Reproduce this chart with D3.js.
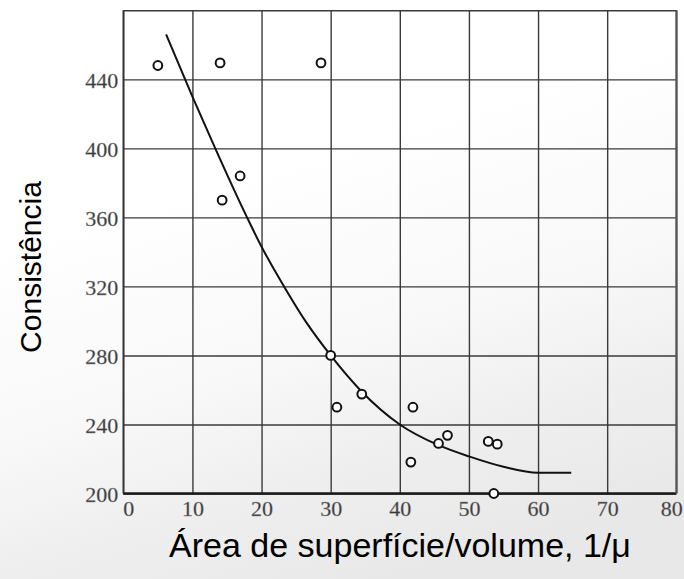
<!DOCTYPE html>
<html>
<head>
<meta charset="utf-8">
<script src="https://cdn.jsdelivr.net/npm/d3@7/dist/d3.min.js"></script>
<style>
  html, body { margin: 0; padding: 0; background: #fff; }
  svg { display: block; }
</style>
</head>
<body>
<script>
// Observed samples: surface area / volume (1/μ) against consistency
const areaVolume = [5.0, 14.0, 28.6, 16.9, 14.3, 30.0, 30.9, 34.5, 41.9, 46.9, 45.6, 41.6, 52.8, 54.1, 53.6];
const consistency = [448, 449.5, 449.5, 384, 370, 280, 250, 257.6, 250, 233.7, 229, 218.2, 230.2, 228.6, 200];

// Trend curve drawn through the cloud of points
const trendX = [6.2, 10, 13.3, 17.9, 20, 23.4, 26.5, 30, 34.5, 40, 45.6, 50, 55, 60, 64.8];
const trendY = [466, 430, 400, 360, 343, 319, 299, 280, 259, 240, 228, 221.5, 215.5, 212, 212];

const xTicks = [0, 10, 20, 30, 40, 50, 60, 70, 80];
const yTicks = [200, 240, 280, 320, 360, 400, 440];
const yGrid = [200, 240, 280, 320, 360, 400, 440, 480];

const xTitle = "Área de superfície/volume, 1/μ";
const yTitle = "Consistência";

const W = 684, H = 579;
const m = { left: 123.3, right: 684 - 676.3, top: 10.3, bottom: 579 - 493.5 };
const iw = W - m.left - m.right, ih = H - m.top - m.bottom;

const svg = d3.select("body").append("svg").attr("width", W).attr("height", H);

// soft grey backdrop fading in toward the bottom
const defs = svg.append("defs");
const grad = defs.append("linearGradient").attr("id", "bg")
  .attr("x1", "0.35").attr("y1", "0.3").attr("x2", "0.6").attr("y2", "1");
grad.append("stop").attr("offset", "0").attr("stop-color", "#ffffff");
grad.append("stop").attr("offset", "0.45").attr("stop-color", "#f8f8f8");
grad.append("stop").attr("offset", "0.7").attr("stop-color", "#efefef");
grad.append("stop").attr("offset", "1").attr("stop-color", "#e8e8e8");
svg.append("rect").attr("width", W).attr("height", H).attr("fill", "url(#bg)");

const g = svg.append("g").attr("transform", `translate(${m.left},${m.top})`);

const x = d3.scaleLinear().domain([0, 80]).range([0, iw]);
const y = d3.scaleLinear().domain([200, 480]).range([ih, 0]);

const serif = "'Liberation Serif', 'DejaVu Serif', serif";

// vertical grid + x tick labels
const xAxis = g.append("g").attr("transform", `translate(0,${ih})`)
  .call(d3.axisBottom(x).tickValues(xTicks).tickSize(-ih).tickPadding(7).tickFormat(d3.format("d")));
xAxis.select(".domain").remove();
xAxis.selectAll(".tick line").attr("stroke", "#3a3a3a").attr("stroke-width", 1.4);
xAxis.selectAll(".tick text")
  .style("font-family", serif).style("font-size", "22px")
  .attr("fill", "#383838").attr("stroke", "#888").attr("stroke-width", 0.35)
  .attr("dx", d => d === 0 ? 5 : d === 80 ? -5 : 0);

// horizontal grid + y tick labels
const yAxis = g.append("g")
  .call(d3.axisLeft(y).tickValues(yGrid).tickSize(-iw).tickPadding(5)
    .tickFormat(d => yTicks.includes(d) ? d3.format("d")(d) : ""));
yAxis.select(".domain").remove();
yAxis.selectAll(".tick line").attr("stroke", "#3a3a3a").attr("stroke-width", 1.4);
yAxis.selectAll(".tick text")
  .style("font-family", serif).style("font-size", "22px")
  .attr("fill", "#383838").attr("stroke", "#888").attr("stroke-width", 0.35)
  .attr("dy", "0.38em");

// frame edges
g.append("line").attr("x1", 0).attr("x2", iw).attr("y1", ih).attr("y2", ih)
  .attr("stroke", "#1a1a1a").attr("stroke-width", 2.4);
g.append("line").attr("x1", 0).attr("x2", 0).attr("y1", 0).attr("y2", ih)
  .attr("stroke", "#333").attr("stroke-width", 1.6);
g.append("line").attr("x1", iw).attr("x2", iw).attr("y1", 0).attr("y2", ih)
  .attr("stroke", "#555").attr("stroke-width", 2);

// trend curve
const trend = trendX.map((v, i) => [v, trendY[i]]);
g.append("path").datum(trend)
  .attr("fill", "none").attr("stroke", "#111").attr("stroke-width", 2)
  .attr("d", d3.line().x(d => x(d[0])).y(d => y(d[1])).curve(d3.curveMonotoneX));

// sample points
const pts = areaVolume.map((v, i) => [v, consistency[i]]);
g.selectAll("circle.pt").data(pts).join("circle").attr("class", "pt")
  .attr("cx", d => x(d[0])).attr("cy", d => y(d[1])).attr("r", 4.4)
  .attr("fill", "#fff").attr("stroke", "#111").attr("stroke-width", 2);

// axis titles
svg.append("text").attr("x", 400).attr("y", 557).attr("text-anchor", "middle")
  .style("font-family", "'Liberation Sans', Arial, sans-serif").style("font-size", "34px")
  .attr("fill", "#000").text(xTitle);
svg.append("text").attr("transform", "translate(41,267) rotate(-90)").attr("text-anchor", "middle")
  .style("font-family", "'Liberation Sans', Arial, sans-serif").style("font-size", "30px")
  .attr("fill", "#000").text(yTitle);
</script>
</body>
</html>
